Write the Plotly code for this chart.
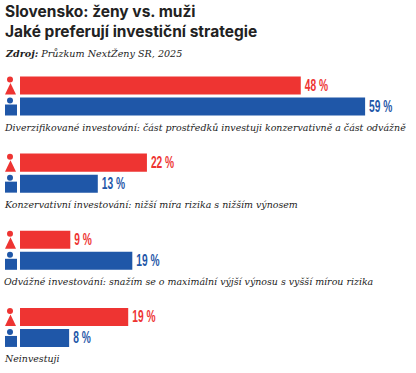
import plotly.graph_objects as go

categories = [
    "Diverzifikované investování: část prostředků investuji konzervativně a část odvážně",
    "Konzervativní investování: nižší míra rizika s nižším výnosem",
    "Odvážné investování: snažím se o maximální výjší výnosu s vyšší mírou rizika",
    "Neinvestuji",
]
women = [48.0, 21.7, 8.6, 18.5]
men = [59.0, 13.3, 19.2, 8.4]
women_labels = ["48 %", "22 %", "9 %", "19 %"]
men_labels = ["59 %", "13 %", "19 %", "8 %"]

RED = "#ee3432"
BLUE = "#1f57a8"
INK = "#222222"
LABEL_FONT = "Liberation Sans, sans-serif"
SERIF = "DejaVu Serif, serif"

fig = go.Figure()
fig.add_bar(y=categories, x=women, name="Ženy", orientation="h", marker_color=RED,
            marker_line_width=0, text=women_labels, textposition="outside", cliponaxis=False,
            textangle=0, constraintext="none",
            textfont=dict(family=LABEL_FONT, size=17, color=RED, weight="bold"))
fig.add_bar(y=categories, x=men, name="Muži", orientation="h", marker_color=BLUE,
            marker_line_width=0, text=men_labels, textposition="outside", cliponaxis=False,
            textangle=0, constraintext="none",
            textfont=dict(family=LABEL_FONT, size=17, color=BLUE, weight="bold"))

shapes = []
annotations = []
for cat in categories:
    common = dict(xref="paper", yref="y", xsizemode="pixel", ysizemode="pixel",
                  xanchor=0, yanchor=cat, line_width=0)
    shapes.append(dict(type="circle", x0=-13, x1=-7, y0=13.5, y1=19.5, fillcolor=RED, **common))
    shapes.append(dict(type="path", path="M -15 1.5 L -4 1.5 L -9.5 13 Z", fillcolor=RED, **common))
    shapes.append(dict(type="circle", x0=-13, x1=-7, y0=-7.5, y1=-1.5, fillcolor=BLUE, **common))
    shapes.append(dict(type="rect", x0=-15, x1=-3, y0=-19.5, y1=-8.5, fillcolor=BLUE, **common))
    annotations.append(dict(text=f"<i>{cat}</i>", xref="paper", yref="y", x=0, y=cat,
                            xshift=-18, yshift=-31.5, xanchor="left", yanchor="middle", showarrow=False,
                            font=dict(family=SERIF, size=9.45, color=INK)))

annotations += [
    dict(text="<b>Slovensko: ženy vs. muži</b><br><b>Jaké preferují investiční strategie</b>",
         xref="paper", yref="paper", x=0, y=1.0, xshift=-17, yshift=36,
         yanchor="middle", xanchor="left", align="left",
         showarrow=False, font=dict(family="Inter, sans-serif", size=15.5, color=INK)),
    dict(text="<b><i>Zdroj:</i></b> <i>Průzkum NextŽeny SR, 2025</i>",
         xref="paper", yref="paper", x=0, y=1.0, xshift=-17, yshift=4,
         yanchor="middle", xanchor="left", showarrow=False,
         font=dict(family=SERIF, size=9.6, color=INK)),
]

fig.update_layout(
    width=416, height=373, autosize=False,
    margin=dict(l=20, r=0, t=57, b=7),
    paper_bgcolor="white", plot_bgcolor="white",
    barmode="group", bargap=0.4545, bargroupgap=0.143,
    showlegend=False, shapes=shapes, annotations=annotations,
)
fig.update_xaxes(range=[0, 67.7], visible=False)
fig.update_yaxes(autorange="reversed", visible=False, categoryorder="array", categoryarray=categories)

# The reference's percent labels use a very condensed face that is not installed:
# narrow the real text glyphs and keep its left edge next to the bar.
post = """
document.body.style.margin='0';
document.querySelectorAll('.bartext text, text.bartext').forEach(function(t){
  var w=t.getComputedTextLength(), n=w*0.6;
  t.setAttribute('textLength', n);
  t.setAttribute('lengthAdjust','spacingAndGlyphs');
  t.setAttribute('x', parseFloat(t.getAttribute('x')||0)-(w-n)/2+1);
});
"""
fig.write_html("out.html", post_script=post, config={"displayModeBar": False})
